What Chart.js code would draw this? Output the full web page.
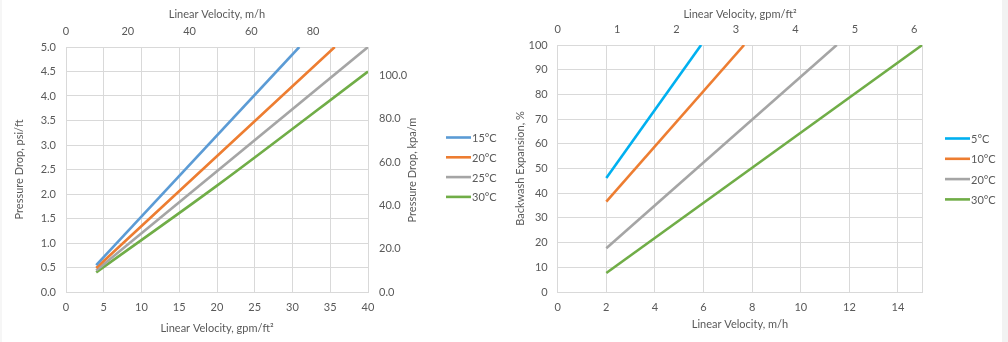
<!DOCTYPE html>
<html>
<head>
<meta charset="utf-8">
<script src="https://cdn.jsdelivr.net/npm/chart.js@4.4.0/dist/chart.umd.min.js"></script>
<style>
  body { margin: 0; background: #fff; width: 1008px; height: 342px; overflow: hidden; position: relative; }
  #left_chart { position: absolute; left: 0; top: 0; }
  #right_chart { position: absolute; left: 505px; top: 0; }
  #edge_r { position: absolute; left: 1002px; top: 0; width: 6px; height: 342px; background: #f2f2f2; }
  #edge_l { position: absolute; left: 0; top: 0; width: 2px; height: 342px; background: #f6f6f6; }
</style>
</head>
<body>
<canvas id="left_chart" width="505" height="342"></canvas>
<canvas id="right_chart" width="497" height="342"></canvas>
<div id="edge_l"></div>
<div id="edge_r"></div>
<script>
// --- pressure drop chart (left) ---
const dp_labels = ["15°C", "20°C", "25°C", "30°C"];
const dp_gpm_15 = [4, 30.9];
const dp_psi_15 = [0.55, 5.0];
const dp_gpm_20 = [4, 35.6];
const dp_psi_20 = [0.49, 5.0];
const dp_gpm_25 = [4, 40];
const dp_psi_25 = [0.44, 5.0];
const dp_gpm_30 = [4, 20, 40];
const dp_psi_30 = [0.40, 2.17, 4.5];

const dp_gpm_ticks = [0, 5, 10, 15, 20, 25, 30, 35, 40];
const dp_mh_ticks = [0, 20, 40, 60, 80];
const dp_psi_ticks = [0, 0.5, 1, 1.5, 2, 2.5, 3, 3.5, 4, 4.5, 5];
const dp_kpa_ticks = [0, 20, 40, 60, 80, 100];

// --- backwash expansion chart (right) ---
const bw_labels = ["5°C", "10°C", "20°C", "30°C"];
const bw_mh_5 = [2, 5.9];
const bw_exp_5 = [46.2, 100];
const bw_mh_10 = [2, 7.67];
const bw_exp_10 = [36.6, 100];
const bw_mh_20 = [2, 11.48];
const bw_exp_20 = [17.7, 100];
const bw_mh_30 = [2, 15];
const bw_exp_30 = [7.7, 100];

const bw_mh_ticks = [0, 2, 4, 6, 8, 10, 12, 14];
const bw_gpm_ticks = [0, 1, 2, 3, 4, 5, 6];
const bw_exp_ticks = [0, 10, 20, 30, 40, 50, 60, 70, 80, 90, 100];

const TXT = "#595959";
const GRID = "#d9d9d9";
const FONT = { family: "Lato", size: 11 };

function pts(xs, ys) {
  return xs.map((x, i) => ({ x: x, y: ys[i] }));
}

function setTicks(list, keepMax) {
  // ticks from the arrays above, plus the axis end for the closing grid line
  return function (scale) {
    let t = list.map(v => ({ value: v }));
    if (keepMax && list[list.length - 1] !== scale.max) t.push({ value: scale.max });
    scale.ticks = t;
  };
}

function line(label, data, color) {
  return { label: label, data: data, borderColor: color, backgroundColor: color,
           borderWidth: 2.6, pointRadius: 0, cubicInterpolationMode: "monotone", fill: false };
}

// legend drawn by hand so it sits where Excel put it
const lineLegend = {
  id: "lineLegend",
  afterDraw(chart, args, opts) {
    const ctx = chart.ctx;
    ctx.save();
    ctx.font = FONT.size + "px " + FONT.family;
    ctx.fillStyle = TXT;
    ctx.textBaseline = "middle";
    chart.data.datasets.forEach((ds, i) => {
      const y = opts.y + i * opts.gap;
      ctx.strokeStyle = ds.borderColor;
      ctx.lineWidth = ds.borderWidth;
      ctx.beginPath();
      ctx.moveTo(opts.x, y);
      ctx.lineTo(opts.x + opts.len, y);
      ctx.stroke();
      ctx.fillText(ds.label, opts.x + opts.len + 1, y + 1);
    });
    ctx.restore();
  }
};

// secondary y title reads bottom-to-top like the primary one
const sideTitle = {
  id: "sideTitle",
  afterDraw(chart, args, opts) {
    if (!opts.text) return;
    const ctx = chart.ctx;
    ctx.save();
    ctx.translate(opts.x, opts.y);
    ctx.rotate(-Math.PI / 2);
    ctx.font = FONT.size + "px " + FONT.family;
    ctx.fillStyle = TXT;
    ctx.textAlign = "center";
    ctx.textBaseline = "middle";
    ctx.fillText(opts.text, 0, 0);
    ctx.restore();
  }
};

function axisTitle(text, pad) {
  return { display: true, text: text, color: TXT, font: FONT, padding: pad };
}

const left_cfg = {
  type: "line",
  data: {
    datasets: [
      line(dp_labels[0], pts(dp_gpm_15, dp_psi_15), "#5b9bd5"),
      line(dp_labels[1], pts(dp_gpm_20, dp_psi_20), "#ed7d31"),
      line(dp_labels[2], pts(dp_gpm_25, dp_psi_25), "#a5a5a5"),
      line(dp_labels[3], pts(dp_gpm_30, dp_psi_30), "#70ad47"),
    ],
  },
  options: {
    responsive: false,
    animation: false,
    layout: { padding: { left: 0, right: 87, top: 0, bottom: 0 } },
    plugins: {
      legend: { display: false },
      tooltip: { enabled: false },
      lineLegend: { x: 446, y: 137.5, gap: 19.8, len: 25 },
      sideTitle: { text: "Pressure Drop, kpa/m", x: 412, y: 170 },
    },
    scales: {
      x: {
        type: "linear", position: "bottom", min: 0, max: 40,
        afterBuildTicks: setTicks(dp_gpm_ticks, false),
        ticks: { color: TXT, font: FONT, padding: 9, maxRotation: 0 },
        grid: { color: GRID, drawTicks: false },
        border: { color: GRID },
        title: axisTitle("Linear Velocity, gpm/ft²", { bottom: 7 }),
        afterFit: s => { s.height = 50; },
      },
      x2: {
        type: "linear", position: "top", min: 0, max: 97.8,
        afterBuildTicks: setTicks(dp_mh_ticks, false),
        ticks: { color: TXT, font: FONT, padding: 9, maxRotation: 0 },
        grid: { display: false, drawTicks: false },
        border: { display: false },
        title: axisTitle("Linear Velocity, m/h", { top: 8 }),
        afterFit: s => { s.height = 47; },
      },
      y: {
        type: "linear", position: "left", min: 0, max: 5,
        afterBuildTicks: setTicks(dp_psi_ticks, false),
        ticks: { color: TXT, font: FONT, padding: 10, callback: v => v.toFixed(1) },
        grid: { color: GRID, drawTicks: false },
        border: { color: GRID },
        title: axisTitle("Pressure Drop, psi/ft", { top: 13 }),
        afterFit: s => { s.width = 66; },
      },
      y2: {
        type: "linear", position: "right", min: 0, max: 113.1,
        afterBuildTicks: setTicks(dp_kpa_ticks, false),
        ticks: { color: TXT, font: FONT, padding: 11, callback: v => v.toFixed(1) },
        grid: { display: false, drawTicks: false },
        border: { display: false },
        afterFit: s => { s.width = 50; },
      },
    },
  },
  plugins: [lineLegend, sideTitle],
};

const right_cfg = {
  type: "line",
  data: {
    datasets: [
      line(bw_labels[0], pts(bw_mh_5, bw_exp_5), "#00b0f0"),
      line(bw_labels[1], pts(bw_mh_10, bw_exp_10), "#ed7d31"),
      line(bw_labels[2], pts(bw_mh_20, bw_exp_20), "#a5a5a5"),
      line(bw_labels[3], pts(bw_mh_30, bw_exp_30), "#70ad47"),
    ],
  },
  options: {
    responsive: false,
    animation: false,
    layout: { padding: { left: 0, right: 79.7, top: 0, bottom: 0 } },
    plugins: {
      legend: { display: false },
      tooltip: { enabled: false },
      lineLegend: { x: 440, y: 138.5, gap: 20.3, len: 25 },
      sideTitle: { text: "" },
    },
    scales: {
      x: {
        type: "linear", position: "bottom", min: 0, max: 15,
        afterBuildTicks: setTicks(bw_mh_ticks, true),
        ticks: { color: TXT, font: FONT, padding: 9, maxRotation: 0,
                 callback: v => (bw_mh_ticks.includes(v) ? v : "") },
        grid: { color: GRID, drawTicks: false },
        border: { color: GRID },
        title: axisTitle("Linear Velocity, m/h", { bottom: 11 }),
        afterFit: s => { s.height = 50; },
      },
      x2: {
        type: "linear", position: "top", min: 0, max: 6.135,
        afterBuildTicks: setTicks(bw_gpm_ticks, false),
        ticks: { color: TXT, font: FONT, padding: 9, maxRotation: 0 },
        grid: { display: false, drawTicks: false },
        border: { display: false },
        title: axisTitle("Linear Velocity, gpm/ft²", { top: 8 }),
        afterFit: s => { s.height = 45; },
      },
      y: {
        type: "linear", position: "left", min: 0, max: 100,
        afterBuildTicks: setTicks(bw_exp_ticks, false),
        ticks: { color: TXT, font: FONT, padding: 10 },
        grid: { color: GRID, drawTicks: false },
        border: { color: GRID },
        title: axisTitle("Backwash Expansion, %", { top: 9 }),
        afterFit: s => { s.width = 52.7; },
      },
    },
  },
  plugins: [lineLegend, sideTitle],
};

new Chart(document.getElementById("left_chart"), left_cfg);
new Chart(document.getElementById("right_chart"), right_cfg);
</script>
</body>
</html>
